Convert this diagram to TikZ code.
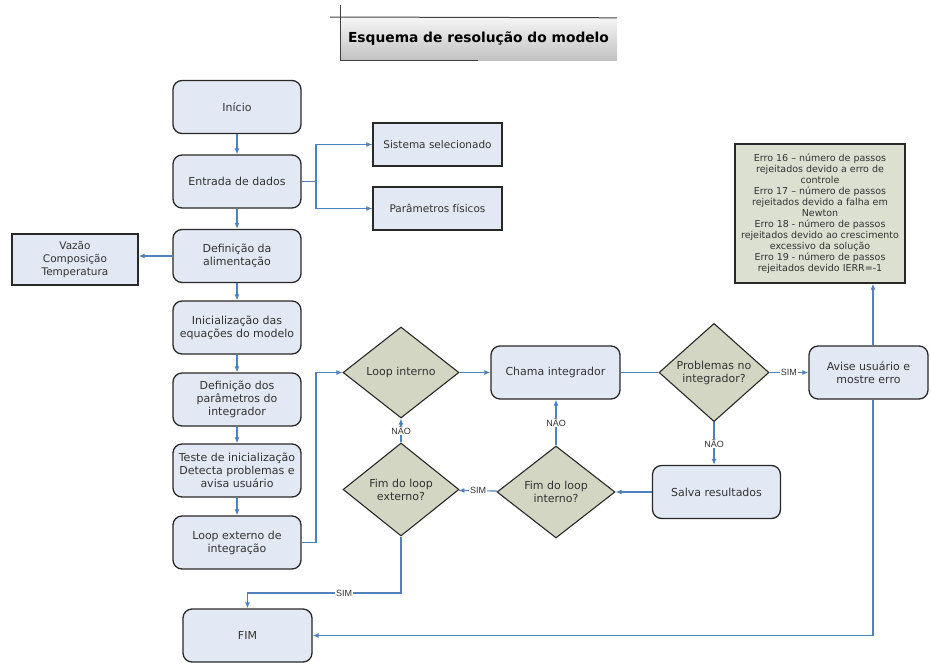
\documentclass[tikz,border=0pt]{standalone}
\usepackage{fontspec}
\setmainfont{DejaVu Sans}
\newfontfamily\lblfont{Liberation Sans}
\usetikzlibrary{shapes.geometric,arrows.meta,calc}

\definecolor{boxfill}{RGB}{227,233,244}
\definecolor{decfill}{RGB}{212,214,196}
\definecolor{errfill}{RGB}{220,224,208}
\definecolor{linkblue}{RGB}{79,129,189}
\definecolor{edge}{RGB}{40,40,40}
\definecolor{txt}{RGB}{50,50,50}

\begin{document}
\begin{tikzpicture}[x=1pt,y=-1pt,
  font=\fontsize{11}{13}\selectfont, text=txt,
  stepbox/.style={draw=edge, line width=1.3pt, fill=boxfill, rounded corners=9pt,
    minimum width=128pt, minimum height=53pt, align=center, inner sep=2pt},
  infobox/.style={draw=edge, line width=1.2pt, fill=boxfill,
    minimum width=129pt, minimum height=43pt, align=center, inner sep=2pt},
  decision/.style={draw=edge, line width=1.1pt, fill=decfill, diamond, inner sep=0pt,
    align=center},
  arr/.style={draw=linkblue, line width=1.1pt, -{Latex[length=6pt,width=5pt]}},
  link/.style={draw=linkblue, line width=1.1pt},
  lbl/.style={font=\lblfont\fontsize{9}{10}\selectfont, fill=white, inner sep=0.8pt, text=txt}
]
\useasboundingbox (0,0) rectangle (931,664);

% heading
\node[minimum width=277pt, minimum height=42pt, inner sep=0pt,
  top color=gray!8, bottom color=gray!48,
  font=\fontsize{13.8}{16}\bfseries\selectfont, text=black] (title) at (478.5,39) {Esquema de resolução do modelo};
\draw[line width=1pt, black!75] (330,17) -- (title.north east);
\draw[line width=1pt, black!75] (340,5) -- (340,60) -- (478,60);

% main column
\node[stepbox] (inicio)  at (237,107)   {Início};
\node[stepbox] (entrada) at (237,181.5) {Entrada de dados};
\node[stepbox] (defalim) at (237,256)   {Definição da\\alimentação};
\node[stepbox] (inic)    at (237,327.5) {Inicialização das\\equações do modelo};
\node[stepbox] (defpar)  at (237,399.5) {Definição dos\\parâmetros do\\integrador};
\node[stepbox] (teste)   at (237,470.5) {Teste de inicialização\\Detecta problemas e\\avisa usuário};
\node[stepbox] (loopext) at (237,542.5) {Loop externo de\\integração};
\node[stepbox, minimum width=129pt] (fim) at (247.5,635.5) {FIM};

% side information
\node[infobox, font=\fontsize{10.5}{13}\selectfont] (sistema) at (437.5,144.5) {Sistema selecionado};
\node[infobox, font=\fontsize{10.5}{13}\selectfont] (param)   at (437.5,208.5) {Parâmetros físicos};
\node[infobox, minimum width=126pt, minimum height=51pt,
  font=\fontsize{10.5}{13}\selectfont] (vazao) at (75,259.5) {Vazão\\Composição\\Temperatura};

% integration loop
\node[decision, minimum width=116pt, minimum height=91pt] (loopint) at (401,372.5) {Loop interno};
\node[stepbox, minimum width=129pt] (chama) at (555.5,372.5) {Chama integrador};
\node[decision, minimum width=110pt, minimum height=85pt] (probl) at (714,372.5) {Problemas no\\integrador?};
\node[stepbox, minimum width=119pt] (avise) at (868.5,372.5) {Avise usuário e\\mostre erro};
\node[stepbox] (salva) at (716.5,492) {Salva resultados};
\node[decision, minimum width=118pt, minimum height=92pt] (fimint) at (556,492) {Fim do loop\\interno?};
\node[decision, minimum width=116pt, minimum height=93pt] (fimext) at (401,489.5) {Fim do loop\\externo?};

% error messages
\node[draw=edge, line width=1.3pt, fill=errfill, minimum width=170pt, minimum height=139pt,
  align=center, inner sep=1pt, font=\fontsize{9.5}{11}\selectfont] (erro) at (820,213.5)
  {Erro 16 – número de passos\\rejeitados devido a erro de\\controle\\
   Erro 17 – número de passos\\rejeitados devido a falha em\\Newton\\
   Erro 18 - número de passos\\rejeitados devido ao crescimento\\excessivo da solução\\
   Erro 19 - número de passos\\rejeitados devido IERR=-1};

% connectors of the main column
\draw[arr] (inicio) -- (entrada);
\draw[arr] (entrada) -- (defalim);
\draw[arr] (defalim) -- (inic);
\draw[arr] (inic) -- (defpar);
\draw[arr] (defpar) -- (teste);
\draw[arr] (teste) -- (loopext);

\coordinate (split) at (316,181.5);
\draw[link] (entrada.east) -- (split);
\draw[arr] (split) |- (sistema.west);
\draw[arr] (split) |- (param.west);
\draw[arr] (defalim.west) -- (vazao.east |- defalim.west);

% connectors of the loop
\coordinate (rise) at (316,542.5);
\draw[arr] (loopext.east) -- (rise) |- (loopint.west);
\draw[arr] (loopint) -- (chama);
\draw[link] (chama) -- (probl);
\draw[arr] (probl) -- node[lbl] {SIM} (avise);
\draw[arr] (probl.south) -- node[lbl] {NÃO} (probl.south |- salva.north);
\draw[arr] (salva) -- (fimint);
\draw[arr] (fimint.north) -- node[lbl] {NÃO} (fimint.north |- chama.south);
\draw[arr] (fimint) -- node[lbl] {SIM} (fimext);
\draw[arr] (fimext) -- node[lbl] {NÃO} (loopint);

\coordinate (drop) at (401,593);
\draw[arr] (fimext.south) -- (drop) -- node[lbl, pos=0.37] {SIM} (drop -| fim.north) -- (fim.north);

\coordinate (vx) at (873,0);
\draw[arr] (avise.north -| vx) -- (erro.south -| vx);
\draw[arr] (avise.south -| vx) |- (fim.east);
\end{tikzpicture}
\end{document}
